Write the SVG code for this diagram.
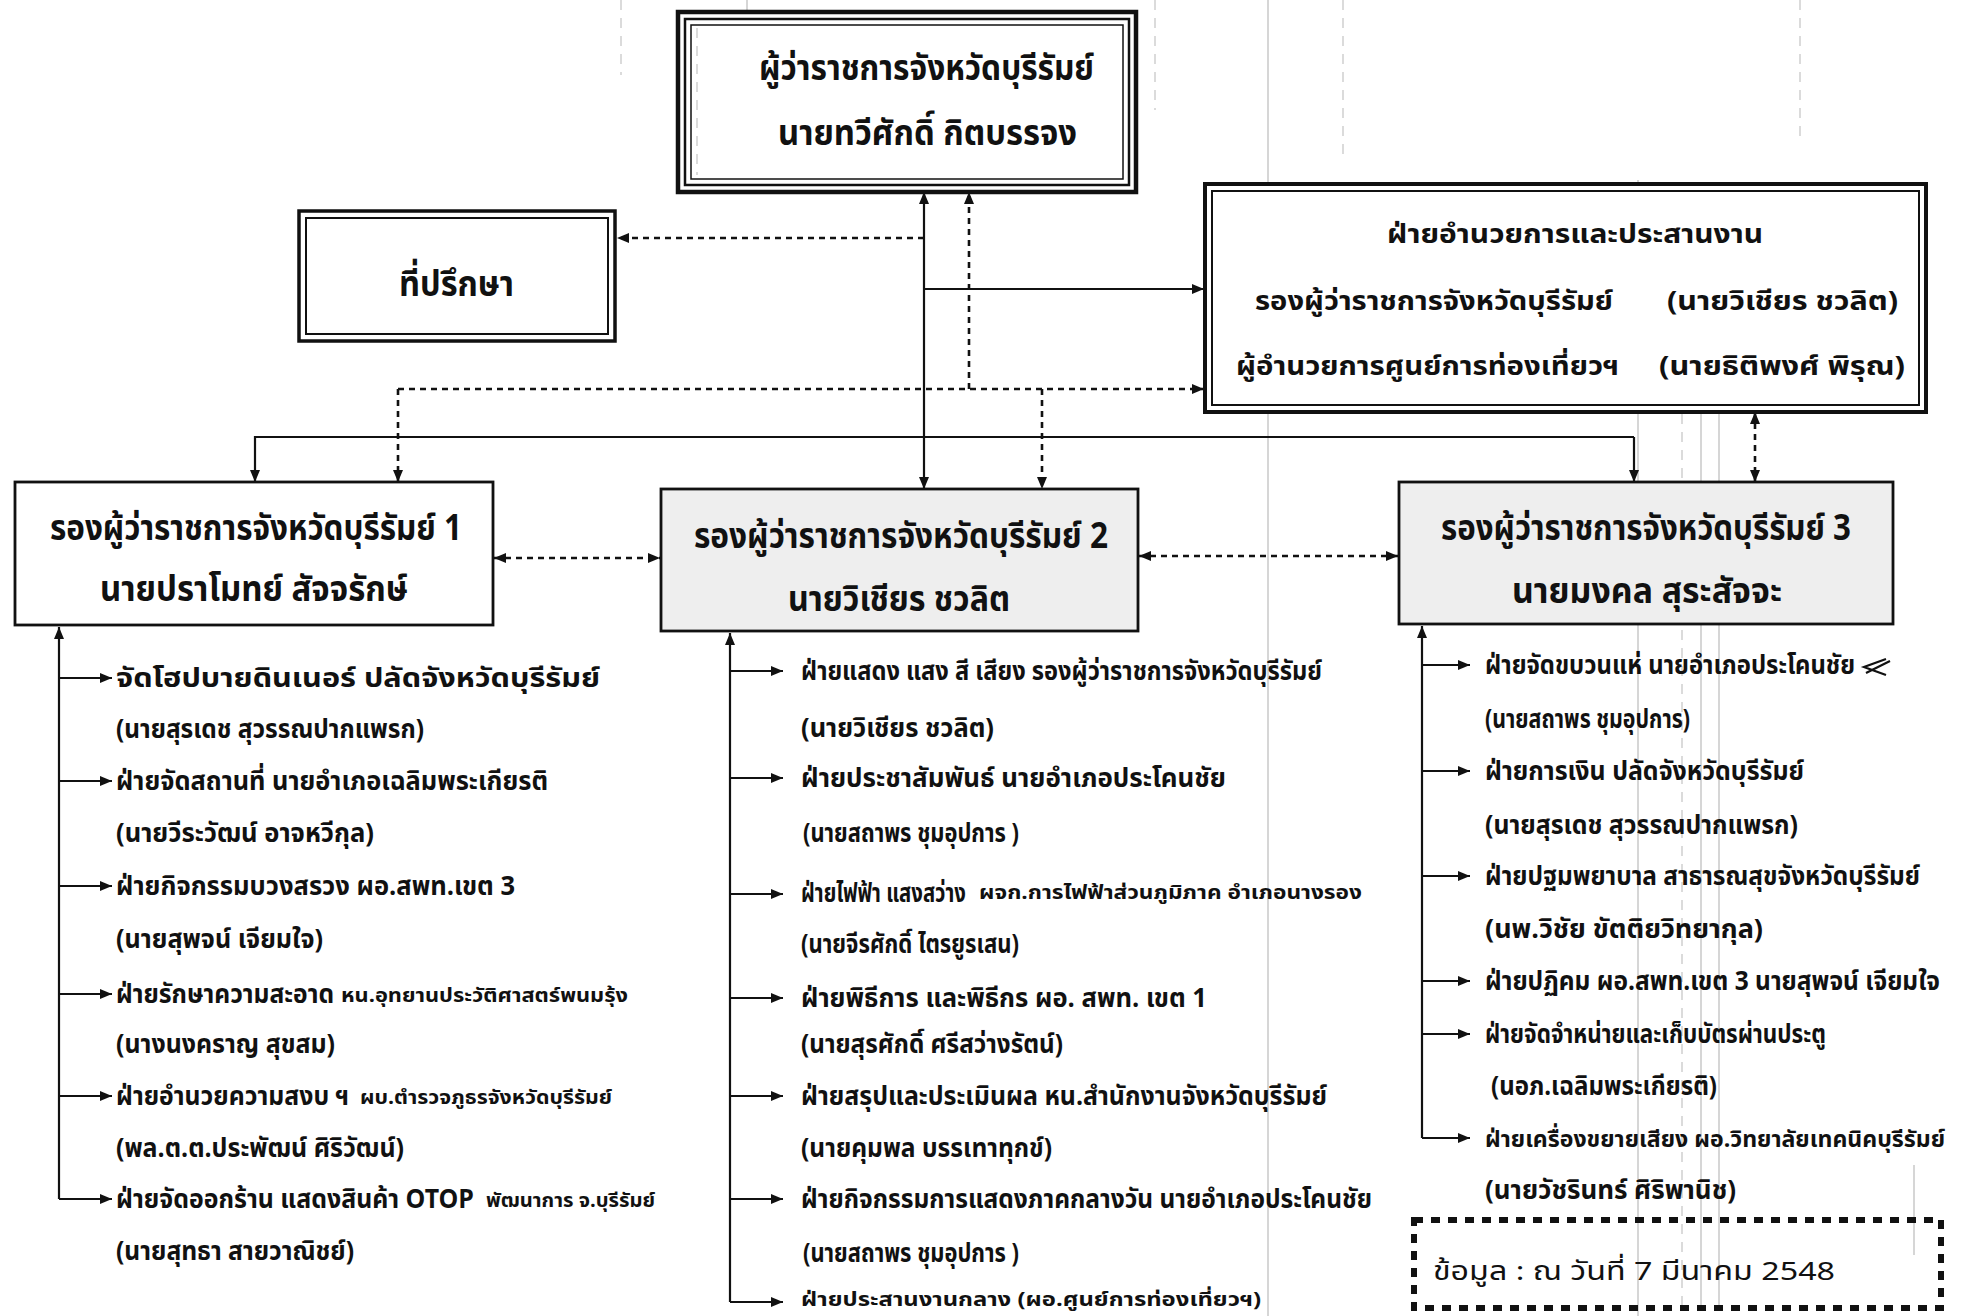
<svg xmlns="http://www.w3.org/2000/svg" width="1968" height="1316" viewBox="0 0 1968 1316">
<defs>
<style>
text{font-family:"Noto Sans Thai","Noto Sans Thai UI","Loma","Garuda","Norasi","Tlwg Typo","DejaVu Sans","Noto Sans",sans-serif;fill:#111;font-weight:bold}
.h{font-size:36px}
.t{font-size:26px}
.s{font-size:19px}
.c{fill:none;stroke:#111;stroke-width:2.2}
.d{fill:none;stroke:#111;stroke-width:2.6;stroke-dasharray:6 5}
.box{fill:#fff;stroke:#111}
.scan{stroke:#c8c8c8;stroke-width:1.5;fill:none}
.scand{stroke:#cfcfcf;stroke-width:1.5;fill:none;stroke-dasharray:10 8}
</style>
<marker id="a" viewBox="0 0 12 10" refX="12" refY="5" markerWidth="12" markerHeight="10" markerUnits="userSpaceOnUse" orient="auto-start-reverse">
<path d="M0,0 L12,5 L0,10 z" fill="#111"/>
</marker>
</defs>
<rect width="1968" height="1316" fill="#fff"/>

<g id="scanlines">
<line class="scand" x1="621" y1="0" x2="621" y2="75"/>
<line class="scan" x1="747" y1="0" x2="747" y2="150"/>
<line class="scan" x1="1268" y1="0" x2="1268" y2="1316"/>
<line class="scand" x1="1155" y1="0" x2="1155" y2="110"/>
<line class="scand" x1="1343" y1="0" x2="1343" y2="160"/>
<line class="scan" x1="1638" y1="180" x2="1638" y2="1316"/>
<line class="scan" x1="1701" y1="414" x2="1701" y2="1311"/>
<line class="scan" x1="1719" y1="414" x2="1719" y2="1311"/>
<line class="scand" x1="1682" y1="414" x2="1682" y2="1311"/>
<line class="scan" x1="1914" y1="1165" x2="1914" y2="1255"/>
<line class="scand" x1="1800" y1="0" x2="1800" y2="140"/>
</g>

<g id="connectors">
<line class="c" x1="924" y1="192" x2="924" y2="489" marker-start="url(#a)" marker-end="url(#a)"/>
<path class="d" d="M969 389 V192" marker-end="url(#a)"/>
<path class="d" d="M398 389 H1204" marker-end="url(#a)"/>
<path class="d" d="M398 389 V482" marker-end="url(#a)"/>
<path class="d" d="M1042 389 V489" marker-end="url(#a)"/>
<path class="d" d="M924 238 H617" marker-end="url(#a)"/>
<path class="c" d="M924 289 H1204" marker-end="url(#a)"/>
<path class="c" d="M1634 437 H255 V482" marker-end="url(#a)"/>
<path class="c" d="M1634 437 V482" marker-end="url(#a)"/>
<path class="d" d="M1755 412 V482" marker-start="url(#a)" marker-end="url(#a)"/>
<path class="d" d="M494 558 H660" marker-start="url(#a)" marker-end="url(#a)"/>
<path class="d" d="M1139 556 H1398" marker-start="url(#a)" marker-end="url(#a)"/>
<!-- box1 list -->
<path class="c" d="M59 1199 V627" marker-end="url(#a)"/>
<path class="c" d="M59 678 H112" marker-end="url(#a)"/>
<path class="c" d="M59 781 H112" marker-end="url(#a)"/>
<path class="c" d="M59 886 H112" marker-end="url(#a)"/>
<path class="c" d="M59 994 H112" marker-end="url(#a)"/>
<path class="c" d="M59 1096 H112" marker-end="url(#a)"/>
<path class="c" d="M59 1199 H112" marker-end="url(#a)"/>
<!-- box2 list -->
<path class="c" d="M730 1302 V633" marker-end="url(#a)"/>
<path class="c" d="M730 671 H783" marker-end="url(#a)"/>
<path class="c" d="M730 778 H783" marker-end="url(#a)"/>
<path class="c" d="M730 894 H783" marker-end="url(#a)"/>
<path class="c" d="M730 998 H783" marker-end="url(#a)"/>
<path class="c" d="M730 1096 H783" marker-end="url(#a)"/>
<path class="c" d="M730 1199 H783" marker-end="url(#a)"/>
<path class="c" d="M730 1302 H783" marker-end="url(#a)"/>
<!-- box3 list -->
<path class="c" d="M1422 1138 V626" marker-end="url(#a)"/>
<path class="c" d="M1422 665 H1470" marker-end="url(#a)"/>
<path class="c" d="M1422 771 H1470" marker-end="url(#a)"/>
<path class="c" d="M1422 876 H1470" marker-end="url(#a)"/>
<path class="c" d="M1422 981 H1470" marker-end="url(#a)"/>
<path class="c" d="M1422 1034 H1470" marker-end="url(#a)"/>
<path class="c" d="M1422 1138 H1470" marker-end="url(#a)"/>
</g>

<g id="governor">
<rect class="box" x="678" y="12" width="458" height="180" stroke-width="4.5"/>
<rect x="685" y="19" width="444" height="166" fill="none" stroke="#111" stroke-width="2.5"/>
<rect x="691" y="25" width="432" height="154" fill="none" stroke="#111" stroke-width="1.5"/>
<line class="scand" x1="697" y1="28" x2="697" y2="175"/>
<text class="h" x="759" y="80" textLength="335" lengthAdjust="spacingAndGlyphs">ผู้ว่าราชการจังหวัดบุรีรัมย์</text>
<text class="h" x="778" y="145" textLength="299" lengthAdjust="spacingAndGlyphs">นายทวีศักดิ์  กิตบรรจง</text>
</g>

<g id="advisor">
<rect class="box" x="299" y="211" width="316" height="130" stroke-width="3.5"/>
<rect x="306" y="218" width="302" height="116" fill="none" stroke="#111" stroke-width="2"/>
<text class="h" x="399" y="296" textLength="115" lengthAdjust="spacingAndGlyphs">ที่ปรึกษา</text>
</g>

<g id="coordination">
<rect class="box" x="1205" y="184" width="721" height="228" stroke-width="4"/>
<rect x="1212" y="191" width="707" height="214" fill="none" stroke="#111" stroke-width="2"/>
<text class="t" x="1387" y="243" textLength="376" lengthAdjust="spacingAndGlyphs">ฝ่ายอำนวยการและประสานงาน</text>
<text class="t" x="1255" y="310" textLength="358" lengthAdjust="spacingAndGlyphs">รองผู้ว่าราชการจังหวัดบุรีรัมย์</text>
<text class="t" x="1667" y="310" textLength="231" lengthAdjust="spacingAndGlyphs">(นายวิเชียร ชวลิต)</text>
<text class="t" x="1236" y="375" textLength="383" lengthAdjust="spacingAndGlyphs">ผู้อำนวยการศูนย์การท่องเที่ยวฯ</text>
<text class="t" x="1659" y="375" textLength="246" lengthAdjust="spacingAndGlyphs">(นายธิติพงศ์  พิรุณ)</text>
</g>

<g id="deputy1">
<rect class="box" x="15" y="482" width="478" height="143" stroke-width="2.8"/>
<text class="h" x="50" y="540" textLength="412" lengthAdjust="spacingAndGlyphs">รองผู้ว่าราชการจังหวัดบุรีรัมย์ 1</text>
<text class="h" x="100" y="601" textLength="308" lengthAdjust="spacingAndGlyphs">นายปราโมทย์ สัจจรักษ์</text>
</g>

<g id="deputy2">
<rect class="box" x="661" y="489" width="477" height="142" stroke-width="2.8" style="fill:#eeeeee"/>
<text class="h" x="694" y="548" textLength="414" lengthAdjust="spacingAndGlyphs">รองผู้ว่าราชการจังหวัดบุรีรัมย์ 2</text>
<text class="h" x="788" y="611" textLength="222" lengthAdjust="spacingAndGlyphs">นายวิเชียร  ชวลิต</text>
</g>

<g id="deputy3">
<rect class="box" x="1399" y="482" width="494" height="142" stroke-width="2.8" style="fill:#eeeeee"/>
<text class="h" x="1441" y="540" textLength="410" lengthAdjust="spacingAndGlyphs">รองผู้ว่าราชการจังหวัดบุรีรัมย์ 3</text>
<text class="h" x="1512" y="603" textLength="270" lengthAdjust="spacingAndGlyphs">นายมงคล สุระสัจจะ</text>
</g>

<g id="list1">
<text class="t" x="116" y="687" textLength="484" lengthAdjust="spacingAndGlyphs">จัดโฮปบายดินเนอร์    ปลัดจังหวัดบุรีรัมย์</text>
<text class="t" x="116" y="738" textLength="308" lengthAdjust="spacingAndGlyphs">(นายสุรเดช สุวรรณปากแพรก)</text>
<text class="t" x="116" y="790" textLength="432" lengthAdjust="spacingAndGlyphs">ฝ่ายจัดสถานที่    นายอำเภอเฉลิมพระเกียรติ</text>
<text class="t" x="116" y="842" textLength="258" lengthAdjust="spacingAndGlyphs">(นายวีระวัฒน์ อาจหวีกุล)</text>
<text class="t" x="116" y="895" textLength="399" lengthAdjust="spacingAndGlyphs">ฝ่ายกิจกรรมบวงสรวง   ผอ.สพท.เขต 3</text>
<text class="t" x="116" y="948" textLength="207" lengthAdjust="spacingAndGlyphs">(นายสุพจน์ เจียมใจ)</text>
<text class="t" x="116" y="1003" textLength="218" lengthAdjust="spacingAndGlyphs">ฝ่ายรักษาความสะอาด</text>
<text class="s" x="341" y="1002" textLength="287" lengthAdjust="spacingAndGlyphs">หน.อุทยานประวัติศาสตร์พนมรุ้ง</text>
<text class="t" x="116" y="1053" textLength="219" lengthAdjust="spacingAndGlyphs">(นางนงคราญ  สุขสม)</text>
<text class="t" x="116" y="1105" textLength="233" lengthAdjust="spacingAndGlyphs">ฝ่ายอำนวยความสงบ ฯ</text>
<text class="s" x="360" y="1104" textLength="252" lengthAdjust="spacingAndGlyphs">ผบ.ตำรวจภูธรจังหวัดบุรีรัมย์</text>
<text class="t" x="116" y="1157" textLength="288" lengthAdjust="spacingAndGlyphs">(พล.ต.ต.ประพัฒน์  ศิริวัฒน์)</text>
<text class="t" x="116" y="1208" textLength="358" lengthAdjust="spacingAndGlyphs">ฝ่ายจัดออกร้าน แสดงสินค้า OTOP</text>
<text class="s" x="486" y="1207" textLength="169" lengthAdjust="spacingAndGlyphs">พัฒนาการ จ.บุรีรัมย์</text>
<text class="t" x="116" y="1260" textLength="238" lengthAdjust="spacingAndGlyphs">(นายสุทธา สายวาณิชย์)</text>
</g>

<g id="list2">
<text class="t" x="801" y="680" textLength="521" lengthAdjust="spacingAndGlyphs">ฝ่ายแสดง แสง สี เสียง  รองผู้ว่าราชการจังหวัดบุรีรัมย์</text>
<text class="t" x="801" y="737" textLength="193" lengthAdjust="spacingAndGlyphs">(นายวิเชียร   ชวลิต)</text>
<text class="t" x="801" y="787" textLength="425" lengthAdjust="spacingAndGlyphs">ฝ่ายประชาสัมพันธ์    นายอำเภอประโคนชัย</text>
<text class="t" x="803" y="842" textLength="216" lengthAdjust="spacingAndGlyphs">(นายสถาพร  ชุมอุปการ )</text>
<text class="t" transform="translate(801 902) scale(0.78 1)" x="0" y="0">ฝ่ายไฟฟ้า แสงสว่าง</text>
<text class="s" x="979" y="899" textLength="383" lengthAdjust="spacingAndGlyphs">ผจก.การไฟฟ้าส่วนภูมิภาค อำเภอนางรอง</text>
<text class="t" x="801" y="953" textLength="218" lengthAdjust="spacingAndGlyphs">(นายจีรศักดิ์  ไตรยูรเสน)</text>
<text class="t" x="801" y="1007" textLength="406" lengthAdjust="spacingAndGlyphs">ฝ่ายพิธีการ และพิธีกร    ผอ. สพท. เขต 1</text>
<text class="t" x="801" y="1053" textLength="262" lengthAdjust="spacingAndGlyphs">(นายสุรศักดิ์ ศรีสว่างรัตน์)</text>
<text class="t" x="801" y="1105" textLength="526" lengthAdjust="spacingAndGlyphs">ฝ่ายสรุปและประเมินผล หน.สำนักงานจังหวัดบุรีรัมย์</text>
<text class="t" x="801" y="1157" textLength="251" lengthAdjust="spacingAndGlyphs">(นายคุมพล บรรเทาทุกข์)</text>
<text class="t" x="801" y="1208" textLength="571" lengthAdjust="spacingAndGlyphs">ฝ่ายกิจกรรมการแสดงภาคกลางวัน  นายอำเภอประโคนชัย</text>
<text class="t" x="803" y="1262" textLength="216" lengthAdjust="spacingAndGlyphs">(นายสถาพร  ชุมอุปการ )</text>
<text class="s" x="801" y="1306" textLength="460" lengthAdjust="spacingAndGlyphs">ฝ่ายประสานงานกลาง (ผอ.ศูนย์การท่องเที่ยวฯ)</text>
</g>

<g id="list3">
<text class="t" x="1485" y="674" textLength="370" lengthAdjust="spacingAndGlyphs">ฝ่ายจัดขบวนแห่   นายอำเภอประโคนชัย</text>
<path d="M1886 659 L1864 667 L1886 675 M1866 673 L1890 661" fill="none" stroke="#111" stroke-width="2.2"/>
<text class="t" x="1485" y="728" textLength="205" lengthAdjust="spacingAndGlyphs">(นายสถาพร ชุมอุปการ)</text>
<text class="t" x="1485" y="780" textLength="319" lengthAdjust="spacingAndGlyphs">ฝ่ายการเงิน  ปลัดจังหวัดบุรีรัมย์</text>
<text class="t" x="1485" y="834" textLength="313" lengthAdjust="spacingAndGlyphs">(นายสุรเดช  สุวรรณปากแพรก)</text>
<text class="t" x="1485" y="885" textLength="435" lengthAdjust="spacingAndGlyphs">ฝ่ายปฐมพยาบาล  สาธารณสุขจังหวัดบุรีรัมย์</text>
<text class="t" x="1485" y="938" textLength="278" lengthAdjust="spacingAndGlyphs">(นพ.วิชัย  ขัตติยวิทยากุล)</text>
<text class="t" x="1485" y="990" textLength="455" lengthAdjust="spacingAndGlyphs">ฝ่ายปฏิคม ผอ.สพท.เขต 3  นายสุพจน์  เจียมใจ</text>
<text class="t" x="1485" y="1043" textLength="341" lengthAdjust="spacingAndGlyphs">ฝ่ายจัดจำหน่ายและเก็บบัตรผ่านประตู</text>
<text class="t" x="1491" y="1095" textLength="226" lengthAdjust="spacingAndGlyphs">(นอภ.เฉลิมพระเกียรติ)</text>
<text class="t" x="1485" y="1147" textLength="460" lengthAdjust="spacingAndGlyphs" style="font-size:23px">ฝ่ายเครื่องขยายเสียง  ผอ.วิทยาลัยเทคนิคบุรีรัมย์</text>
<text class="t" x="1485" y="1199" textLength="251" lengthAdjust="spacingAndGlyphs">(นายวัชรินทร์  ศิริพานิช)</text>
</g>

<g id="note">
<rect x="1414" y="1220" width="527" height="88" fill="none" stroke="#111" stroke-width="6" stroke-dasharray="9 8"/>
<text class="t" x="1433" y="1280" textLength="402" lengthAdjust="spacingAndGlyphs" style="font-weight:normal">ข้อมูล :  ณ  วันที่  7  มีนาคม  2548</text>
</g>
</svg>
